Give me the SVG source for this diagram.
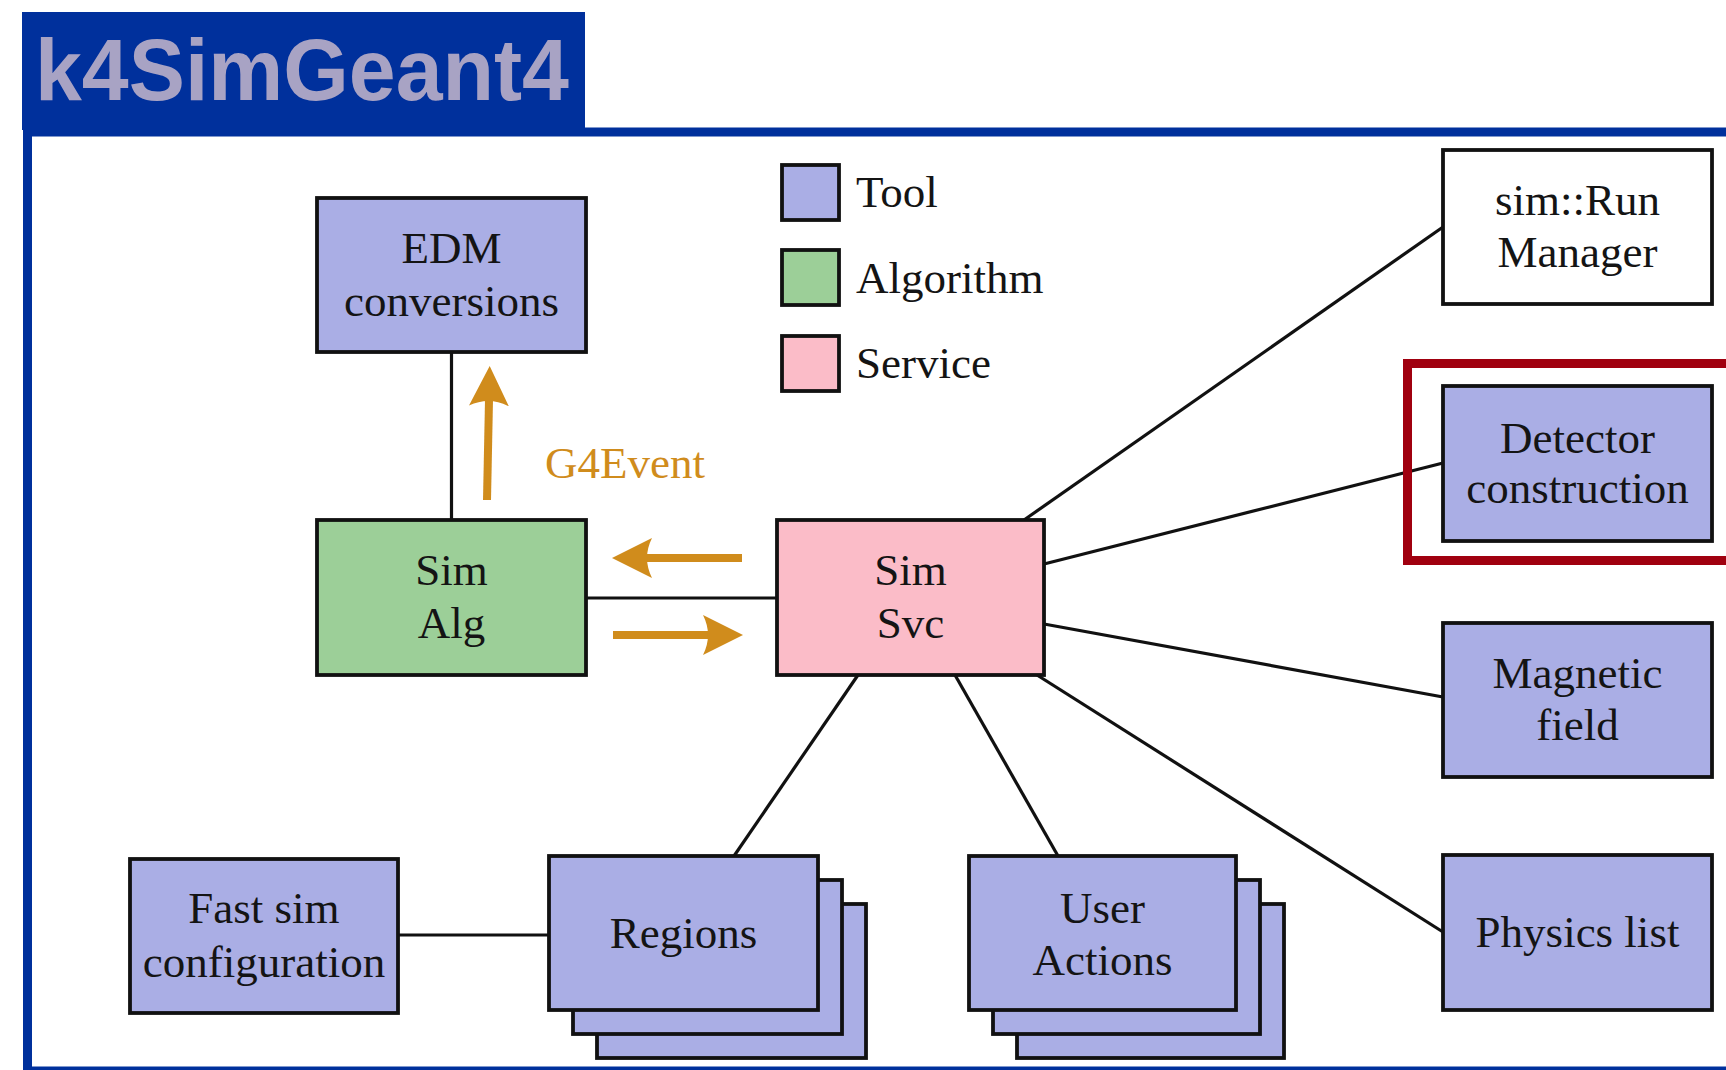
<svg xmlns="http://www.w3.org/2000/svg" width="1726" height="1070" viewBox="0 0 1726 1070">
<style>
.box{stroke:#111;stroke-width:3.8}
.tool{fill:#aaaee5}
.alg{fill:#9ccf98}
.svc{fill:#fbbcc8}
.plain{fill:#ffffff}
.lbl{font-family:"Liberation Serif","Times New Roman",serif;font-size:45px;fill:#141414;text-anchor:middle}
.leg{font-family:"Liberation Serif","Times New Roman",serif;font-size:45px;fill:#141414}
.con{stroke:#111;stroke-width:3.2;fill:none}
.oarr{stroke:#d08c1c;stroke-width:8;fill:none;marker-end:url(#head)}
</style>
<defs>
<marker id="head" viewBox="0 0 40 40" markerWidth="40" markerHeight="40" markerUnits="userSpaceOnUse" refX="6" refY="20" orient="auto">
<path d="M0,0 L40,20 L0,40 Q10,20 0,0 Z" fill="#d08c1c"/>
</marker>
</defs>
<rect x="0" y="0" width="1726" height="1070" fill="#ffffff"/>
<g id="title">
<rect x="22" y="12" width="563" height="118" fill="#00309c"/>
<rect x="27.5" y="132" width="1750" height="939" fill="none" stroke="#00309c" stroke-width="9"/>
<text x="35" y="100" font-family="Liberation Sans, Arial, sans-serif" font-weight="bold" font-size="87" fill="#a8a3c4" textLength="534" lengthAdjust="spacingAndGlyphs">k4SimGeant4</text>
</g>
<g id="connectors">
<line class="con" x1="451.5" y1="352" x2="451.5" y2="520"/>
<line class="con" x1="586" y1="598" x2="777" y2="598"/>
<line class="con" x1="1024" y1="520" x2="1443" y2="227"/>
<line class="con" x1="1044" y1="564" x2="1443" y2="463"/>
<line class="con" x1="1044" y1="624" x2="1443" y2="697"/>
<line class="con" x1="1037" y1="675" x2="1443" y2="932"/>
<line class="con" x1="955" y1="675" x2="1058" y2="856"/>
<line class="con" x1="858" y1="675" x2="734" y2="856"/>
<line class="con" x1="398" y1="935" x2="549" y2="935"/>
</g>
<g id="flow-arrows">
<line class="oarr" x1="487" y1="500" x2="489" y2="400"/>
<line class="oarr" x1="742" y1="558" x2="646" y2="558"/>
<line class="oarr" x1="613" y1="635" x2="709" y2="635"/>
<text x="545" y="478" font-family="Liberation Serif, Times New Roman, serif" font-size="45" fill="#d08c1c">G4Event</text>
</g>
<g id="legend">
<rect class="box tool" x="782" y="165" width="57" height="55"/>
<rect class="box alg" x="782" y="250" width="57" height="55"/>
<rect class="box svc" x="782" y="336" width="57" height="55"/>
<text class="leg" x="856" y="207">Tool</text>
<text class="leg" x="856" y="293">Algorithm</text>
<text class="leg" x="856" y="378">Service</text>
</g>
<g id="edm">
<rect class="box tool" x="317" y="198" width="269" height="154"/>
<text class="lbl" x="451.5" y="263">EDM</text>
<text class="lbl" x="451.5" y="316">conversions</text>
</g>
<g id="simalg">
<rect class="box alg" x="317" y="520" width="269" height="155"/>
<text class="lbl" x="451.5" y="585">Sim</text>
<text class="lbl" x="451.5" y="638">Alg</text>
</g>
<g id="simsvc">
<rect class="box svc" x="777" y="520" width="267" height="155"/>
<text class="lbl" x="910.5" y="585">Sim</text>
<text class="lbl" x="910.5" y="638">Svc</text>
</g>
<g id="runmanager">
<rect class="box plain" x="1443" y="150" width="269" height="154"/>
<text class="lbl" x="1577.5" y="215">sim::Run</text>
<text class="lbl" x="1577.5" y="267">Manager</text>
</g>
<g id="detector">
<rect class="box tool" x="1443" y="386" width="269" height="155"/>
<text class="lbl" x="1577.5" y="453">Detector</text>
<text class="lbl" x="1577.5" y="503">construction</text>
</g>
<g id="highlight">
<rect x="1407.5" y="363.5" width="340" height="197" fill="none" stroke="#a0000f" stroke-width="9"/>
</g>
<g id="magnetic">
<rect class="box tool" x="1443" y="623" width="269" height="154"/>
<text class="lbl" x="1577.5" y="688">Magnetic</text>
<text class="lbl" x="1577.5" y="740">field</text>
</g>
<g id="physics">
<rect class="box tool" x="1443" y="855" width="269" height="155"/>
<text class="lbl" x="1577.5" y="947">Physics list</text>
</g>
<g id="fastsim">
<rect class="box tool" x="130" y="859" width="268" height="154"/>
<text class="lbl" x="264" y="923">Fast sim</text>
<text class="lbl" x="264" y="977">configuration</text>
</g>
<g id="regions">
<rect class="box tool" x="597" y="904" width="269" height="154"/>
<rect class="box tool" x="573" y="880" width="269" height="154"/>
<rect class="box tool" x="549" y="856" width="269" height="154"/>
<text class="lbl" x="683.5" y="948">Regions</text>
</g>
<g id="useractions">
<rect class="box tool" x="1017" y="904" width="267" height="154"/>
<rect class="box tool" x="993" y="880" width="267" height="154"/>
<rect class="box tool" x="969" y="856" width="267" height="154"/>
<text class="lbl" x="1102.5" y="923">User</text>
<text class="lbl" x="1102.5" y="975">Actions</text>
</g>
</svg>
